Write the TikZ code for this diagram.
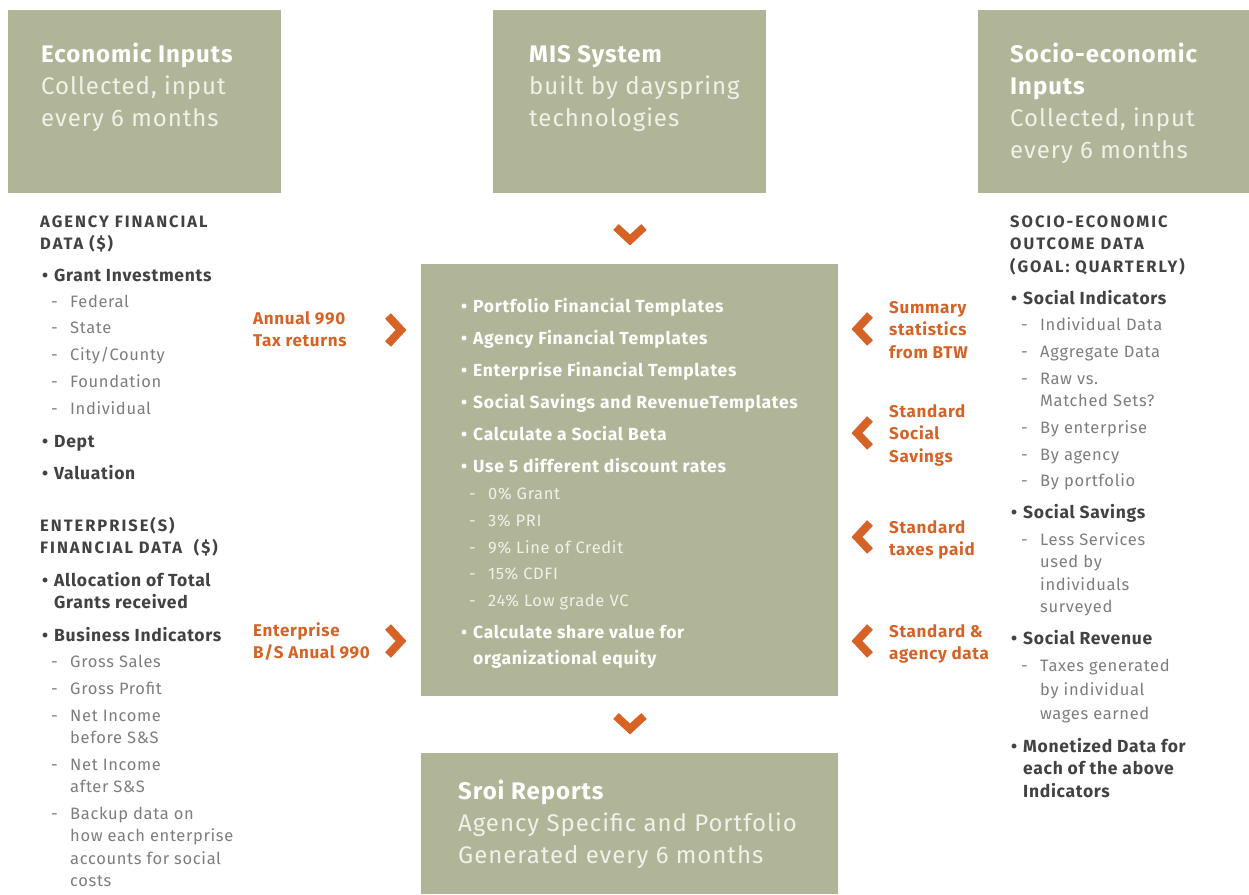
\documentclass[tikz,border=0pt]{standalone}
\usepackage{fontspec}
\setmainfont{Fira Sans}[LetterSpace=4]
\definecolor{ccbox}{RGB}{176,181,152}
\definecolor{ccorange}{RGB}{214,98,38}
\definecolor{cctext}{RGB}{66,66,66}
\definecolor{ccsub}{RGB}{125,125,125}
\definecolor{ccclair}{RGB}{240,241,233}
\newcommand{\puce}{\llap{\textbullet\hspace{0.35em}}}
\newcommand{\tiret}{\llap{-\hspace{0.75em}}}

\begin{document}
\begin{tikzpicture}[x=1pt,y=-1pt]

  % Styles (ancre : ligne de base de la derniere ligne)
  \tikzstyle{boite} = [fill=ccbox, inner sep=0, anchor=north west]
  \tikzstyle{titre} = [white, inner sep=0, anchor=base west, align=left, font=\fontsize{24}{32}\selectfont\bfseries]
  \tikzstyle{soustitre} = [ccclair, inner sep=0, anchor=base west, align=left, font=\fontsize{24}{32}\selectfont]
  \tikzstyle{entete} = [cctext, inner sep=0, anchor=base west, align=left, font=\fontsize{16.5}{22.5}\selectfont\bfseries\addfontfeatures{LetterSpace=12}]
  \tikzstyle{item} = [cctext, inner sep=0, anchor=base west, align=left, font=\fontsize{17.5}{22.5}\selectfont\bfseries]
  \tikzstyle{sousitem} = [ccsub, inner sep=0, anchor=base west, align=left, font=\fontsize{16.5}{22.5}\selectfont]
  \tikzstyle{itemb} = [white, inner sep=0, anchor=base west, align=left, font=\fontsize{17.5}{26}\selectfont\bfseries]
  \tikzstyle{sousitemb} = [ccclair, inner sep=0, anchor=base west, align=left, font=\fontsize{16.5}{22.5}\selectfont]
  \tikzstyle{source} = [ccorange, inner sep=0, anchor=base west, align=left, font=\fontsize{17}{22.5}\selectfont\bfseries]
  \tikzstyle{chevron} = [ccorange, line width=8, line cap=butt, line join=miter]

  % Cadre
  \useasboundingbox (0,0) rectangle (1249,894);

  % Boites
  \draw (8,10) node[boite, minimum width=273, minimum height=183] (eco) {};
  \draw (493,10) node[boite, minimum width=273, minimum height=183] (mis) {};
  \draw (978,10) node[boite, minimum width=271, minimum height=183] (soc) {};
  \draw (421,264) node[boite, minimum width=417, minimum height=432] (calc) {};
  \draw (421,753) node[boite, minimum width=417, minimum height=141] (sroi) {};

  % Titres des boites
  \draw (41,62) node[titre] (ecoT) {Economic Inputs};
  \draw (41,126) node[soustitre] (ecoS) {Collected, input\\every 6 months};
  \draw (529,62) node[titre] (misT) {MIS System};
  \draw (529,126) node[soustitre] (misS) {built by dayspring\\technologies};
  \draw (1010,94) node[titre] (socT) {Socio-economic\\Inputs};
  \draw (1010,158) node[soustitre] (socS) {Collected, input\\every 6 months};
  \draw (458,799) node[titre] (sroiT) {Sroi Reports};
  \draw (458,863) node[soustitre] (sroiS) {Agency Specific and Portfolio\\Generated every 6 months};

  % Colonne gauche
  \draw (40,249.5) node[entete] (agence) {AGENCY FINANCIAL\\DATA (\$)};
  \draw (54,281) node[item] (grant) {\puce Grant Investments};
  \draw (70,307) node[sousitem] (fed) {\tiret Federal};
  \draw (70,333) node[sousitem] (state) {\tiret State};
  \draw (70,360) node[sousitem] (city) {\tiret City/County};
  \draw (70,387) node[sousitem] (found) {\tiret Foundation};
  \draw (70,414) node[sousitem] (indiv) {\tiret Individual};
  \draw (54,447) node[item] (dept) {\puce Dept};
  \draw (54,479) node[item] (valu) {\puce Valuation};
  \draw (40,553.5) node[entete] (entr) {ENTERPRISE(S)\\FINANCIAL DATA\ \ (\$)};
  \draw (54,608.5) node[item] (alloc) {\puce Allocation of Total\\Grants received};
  \draw (54,641) node[item] (busi) {\puce Business Indicators};
  \draw (70,667) node[sousitem] (gsales) {\tiret Gross Sales};
  \draw (70,694) node[sousitem] (gprofit) {\tiret Gross Profit};
  \draw (70,743.5) node[sousitem] (nibefore) {\tiret Net Income\\before S\&S};
  \draw (70,792.5) node[sousitem] (niafter) {\tiret Net Income\\after S\&S};
  \draw (70,886.5) node[sousitem] (backup) {\tiret Backup data on\\how each enterprise\\accounts for social\\costs};

  % Boite centrale
  \draw (473,312) node[itemb] (tPort) {\puce Portfolio Financial Templates};
  \draw (473,344) node[itemb] (tAgen) {\puce Agency Financial Templates};
  \draw (473,376) node[itemb] (tEntr) {\puce Enterprise Financial Templates};
  \draw (473,408) node[itemb] (tSoc) {\puce Social Savings and RevenueTemplates};
  \draw (473,440) node[itemb] (beta) {\puce Calculate a Social Beta};
  \draw (473,472) node[itemb] (taux) {\puce Use 5 different discount rates};
  \draw (488,499) node[sousitemb] (r0) {\tiret 0\% Grant};
  \draw (488,526) node[sousitemb] (r3) {\tiret 3\% PRI};
  \draw (488,553) node[sousitemb] (r9) {\tiret 9\% Line of Credit};
  \draw (488,579) node[sousitemb] (r15) {\tiret 15\% CDFI};
  \draw (488,606) node[sousitemb] (r24) {\tiret 24\% Low grade VC};
  \draw (473,664) node[itemb] (share) {\puce Calculate share value for\\organizational equity};

  % Sources
  \draw (253,346.5) node[source] (s990) {Annual 990\\Tax returns};
  \draw (253,658.5) node[source] (sEntr) {Enterprise\\B/S Anual 990};
  \draw (889,358) node[source] (sBTW) {Summary\\statistics\\from BTW};
  \draw (889,462) node[source] (sSav) {Standard\\Social\\Savings};
  \draw (889,555.5) node[source] (sTax) {Standard\\taxes paid};
  \draw (889,659.5) node[source] (sAg) {Standard \&\\agency data};

  % Colonne droite
  \draw (1010,272) node[entete] (outcome) {SOCIO-ECONOMIC\\OUTCOME DATA\\(GOAL: QUARTERLY)};
  \draw (1023,304) node[item] (socind) {\puce Social Indicators};
  \draw (1040,330) node[sousitem] (idata) {\tiret Individual Data};
  \draw (1040,357) node[sousitem] (adata) {\tiret Aggregate Data};
  \draw (1040,406.5) node[sousitem] (raw) {\tiret Raw vs.\\Matched Sets?};
  \draw (1040,433) node[sousitem] (byent) {\tiret By enterprise};
  \draw (1040,460) node[sousitem] (byag) {\tiret By agency};
  \draw (1040,486) node[sousitem] (byport) {\tiret By portfolio};
  \draw (1023,518) node[item] (socsav) {\puce Social Savings};
  \draw (1040,612.5) node[sousitem] (less) {\tiret Less Services\\used by\\individuals\\surveyed};
  \draw (1023,644) node[item] (socrev) {\puce Social Revenue};
  \draw (1040,719) node[sousitem, font=\fontsize{16.5}{24}\selectfont] (taxgen) {\tiret Taxes generated\\by individual\\wages earned};
  \draw (1023,797) node[item] (monet) {\puce Monetized Data for\\each of the above\\Indicators};

  % Chevrons
  \draw[chevron] (616,227) -- (630,240) -- (644,227);
  \draw[chevron] (616,716) -- (630,729) -- (644,716);
  \draw[chevron] (388,316) -- (401,330) -- (388,344);
  \draw[chevron] (388,627) -- (401,641) -- (388,655);
  \draw[chevron] (870,315) -- (857,329) -- (870,343);
  \draw[chevron] (870,419) -- (857,433) -- (870,447);
  \draw[chevron] (870,523) -- (857,537) -- (870,551);
  \draw[chevron] (870,627) -- (857,641) -- (870,655);

\end{tikzpicture}
\end{document}
